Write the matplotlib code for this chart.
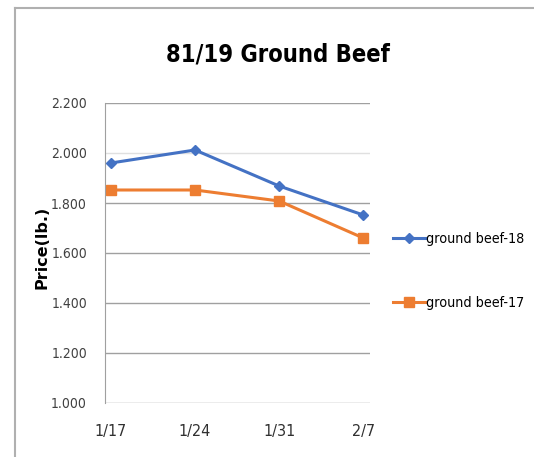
import matplotlib; matplotlib.use("Agg")
import matplotlib.pyplot as plt
from matplotlib.lines import Line2D

dates = ["1/17", "1/24", "1/31", "2/7"]
beef18 = [1.960, 2.012, 1.868, 1.752]
beef17 = [1.852, 1.852, 1.808, 1.660]
yticks = [1.0, 1.2, 1.4, 1.6, 1.8, 2.0, 2.2]

plt.rcParams["font.family"] = ["DejaVu Sans"]
plt.rcParams["font.stretch"] = "condensed"

fig = plt.figure(figsize=(5.34, 4.57), dpi=100)
ax = fig.add_axes([105/534, 1-403/457, 265/534, 300/457])

x = range(len(dates))
l18, = ax.plot(x, beef18, "-", color="#4472C4", lw=2.2, marker="D", ms=5, label="ground beef-18")
l17, = ax.plot(x, beef17, "-", color="#ED7D31", lw=2.2, marker="s", ms=7.5, label="ground beef-17")

ax.set_ylim(1.0, 2.2)
ax.set_xlim(-0.07, 3.08)
ax.set_yticks(yticks)
ax.set_yticklabels([f"{v:.3f}" for v in yticks], fontsize=10, color="#404040")
ax.set_xticks(list(x))
ax.set_xticklabels(dates, fontsize=11.5, color="#303030")
ax.tick_params(length=0, pad=13)
ax.tick_params(axis="x", pad=15)
for v in yticks:
    ax.axhline(v, color="#e0e0e0" if v == 2.0 else "#a0a0a0", lw=1, zorder=0)
for s in ["top", "right", "bottom"]:
    ax.spines[s].set_visible(False)
ax.spines["left"].set_color("#a0a0a0")

ax.set_ylabel("Price(lb.)", fontsize=11.5, fontweight="bold", fontstretch="normal")
ax.yaxis.set_label_coords(-0.21, 0.52)
fig.text(278/534, 1-55/457, "81/19 Ground Beef", ha="center", va="center", fontsize=17, fontweight="bold")

fig.legend(handles=[l18, l17], loc="center left", bbox_to_anchor=(380/534, 1-271/457),
           frameon=False, fontsize=10.3, labelspacing=3.5, handlelength=2.3, handletextpad=0.05)

# outer frame lines
fig.add_artist(Line2D([14.5/534, 14.5/534], [0, 1-7.5/457], color="#b0b0b0", lw=1.5))
fig.add_artist(Line2D([14.5/534, 1], [1-7.5/457, 1-7.5/457], color="#b0b0b0", lw=1.5))

fig.savefig("out.png", dpi=100)
